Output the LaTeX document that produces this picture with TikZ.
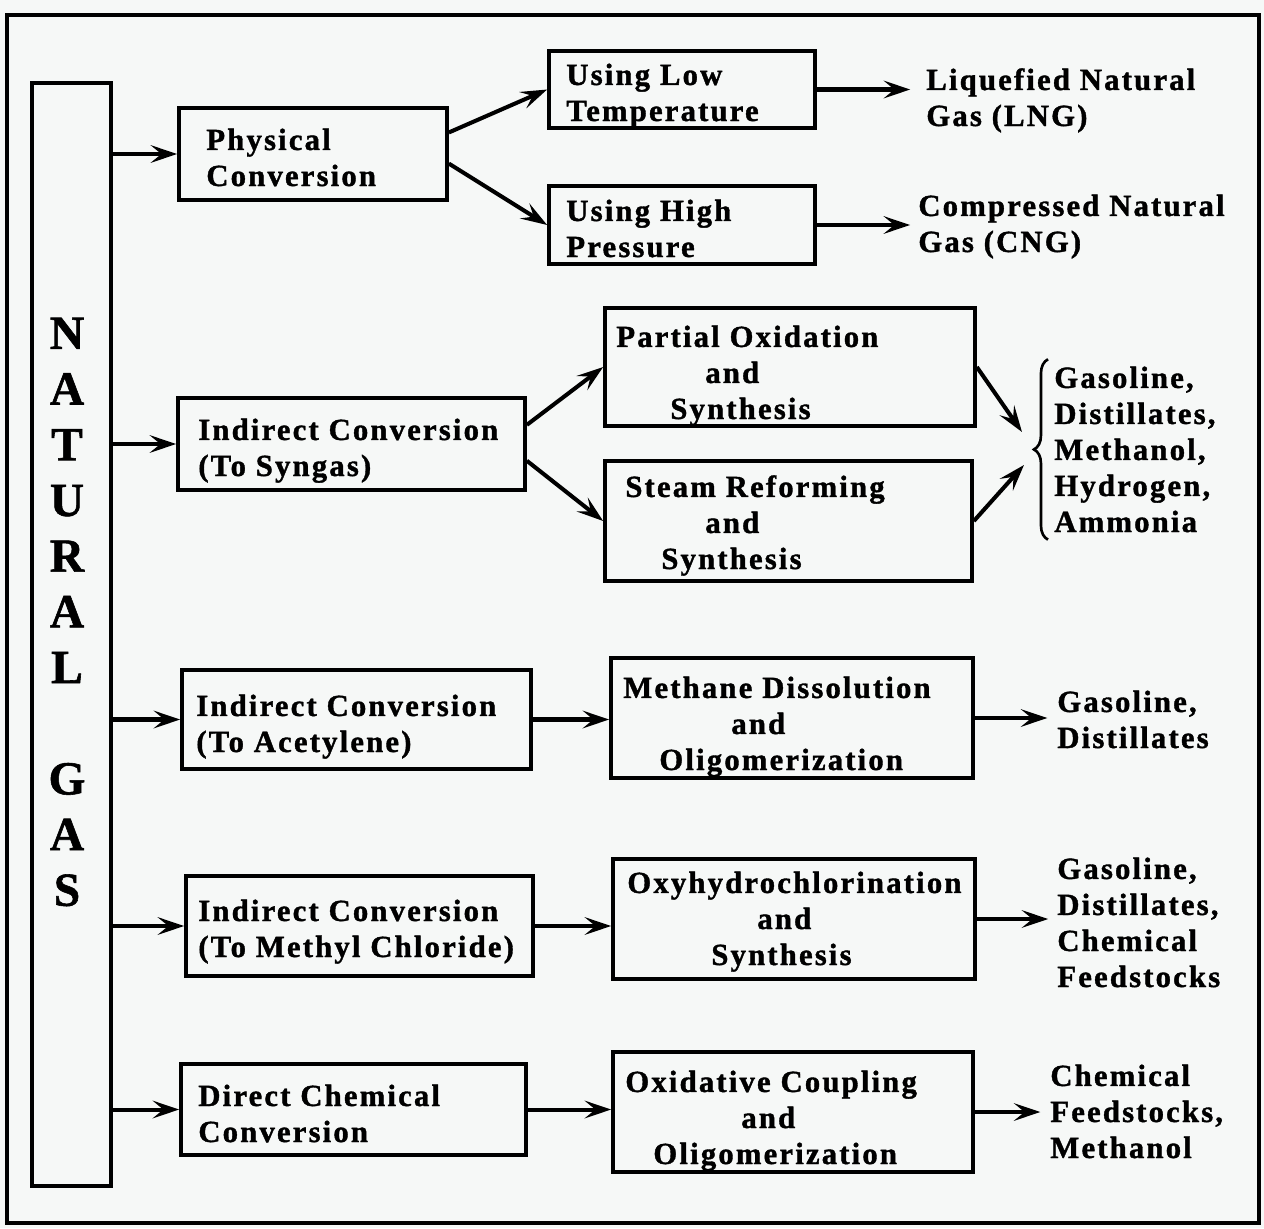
\documentclass[tikz,border=0pt]{standalone}
\usepackage{fontspec}
\setmainfont{Liberation Serif}[LetterSpace=7, BoldFeatures={FakeBold=1.2}]
\usepackage{xcolor}
\usetikzlibrary{arrows.meta,fit,calc,decorations.pathreplacing}
\definecolor{paper}{RGB}{246,248,247}
\newlength{\pxu}
\setlength{\pxu}{0.02cm}

\begin{document}
\begin{tikzpicture}[x=0.02cm, y=-0.02cm,
        box/.style={draw, black, line width=2.1pt, inner sep=0pt},
        txt/.style={inner sep=0pt, anchor=base west, align=left, font=\bfseries\fontsize{17.5}{20.5}\selectfont},
        arr/.style={black, line width=2.3pt, -{Stealth[length=15pt, width=10pt, inset=6pt]}}]
        \fill [paper] (0,0) rectangle (1264,1228);
        \useasboundingbox (0,0) rectangle (1264,1228);
        \node [box, line width=1.9pt, fit={(7,15) (1259,1223)}] (frame) {};

        \node [box, fit={(32,83) (111,1186)}] (bar) {};
        \node [inner sep=0pt, align=center, font=\bfseries\fontsize{27}{31.7}\selectfont] (name) at (67,612) {N\\A\\T\\U\\R\\A\\L\\[31.7pt]G\\A\\S};

        \node [box, fit={(179,108) (447,200)}] (phys) {};
        \node [txt] (phys-t) at (206,186) {Physical\\Conversion};
        \node [box, fit={(549,51) (815,128)}] (low) {};
        \node [txt] (low-t) at (566,121) {Using Low\\Temperature};
        \node [box, fit={(549,186) (815,264)}] (high) {};
        \node [txt] (high-t) at (566,257) {Using High\\Pressure};
        \node [txt] (lng) at (926,126) {Liquefied Natural\\Gas (LNG)};
        \node [txt] (cng) at (918,252) {Compressed Natural\\Gas (CNG)};

        \node [box, fit={(178,398) (525,490)}] (syn) {};
        \node [txt] (syn-t) at (198,476) {Indirect Conversion\\(To Syngas)};
        \node [box, fit={(605,308) (975,426)}] (pox) {};
        \node [txt] (pox-t) at (616,419) {Partial Oxidation\\\hspace*{89\pxu}and\\\hspace*{54\pxu}Synthesis};
        \node [box, fit={(605,461) (972,581)}] (stm) {};
        \node [txt] (stm-t) at (625,569) {Steam Reforming\\\hspace*{80\pxu}and\\\hspace*{36\pxu}Synthesis};
        \node [txt] (fuels) at (1054,532) {Gasoline,\\Distillates,\\Methanol,\\Hydrogen,\\Ammonia};
        \coordinate (fuels-in1) at (1022,432);
        \coordinate (fuels-in2) at (1024,465);
        \draw [black, line width=1.5pt, decorate, decoration={brace, amplitude=8pt}] ($(fuels.south west)+(-6,7)$) to ($(fuels.north west)+(-6,-7)$);

        \node [box, fit={(182,670) (531,769)}] (acet) {};
        \node [txt] (acet-t) at (196,752) {Indirect Conversion\\(To Acetylene)};
        \node [box, fit={(611,658) (973,778)}] (mdo) {};
        \node [txt] (mdo-t) at (623,770) {Methane Dissolution\\\hspace*{108\pxu}and\\\hspace*{36\pxu}Oligomerization};
        \node [txt] (gd) at (1057,748) {Gasoline,\\Distillates};

        \node [box, fit={(186,876) (533,976)}] (mcl) {};
        \node [txt] (mcl-t) at (198,957) {Indirect Conversion\\(To Methyl Chloride)};
        \node [box, fit={(613,859) (975,979)}] (ohc) {};
        \node [txt] (ohc-t) at (627,965) {Oxyhydrochlorination\\\hspace*{130\pxu}and\\\hspace*{84\pxu}Synthesis};
        \node [txt] (gdcf) at (1057,987) {Gasoline,\\Distillates,\\Chemical\\Feedstocks};

        \node [box, fit={(181,1064) (526,1155)}] (dcc) {};
        \node [txt] (dcc-t) at (198,1142) {Direct Chemical\\Conversion};
        \node [box, fit={(613,1052) (973,1172)}] (ocp) {};
        \node [txt] (ocp-t) at (625,1164) {Oxidative Coupling\\\hspace*{116\pxu}and\\\hspace*{28\pxu}Oligomerization};
        \node [txt] (cfm) at (1050,1158) {Chemical\\Feedstocks,\\Methanol};

        \draw [arr] (bar.east |- phys.west) to (phys.west);
        \draw [arr] (bar.east |- syn.west) to (syn.west);
        \draw [arr] (bar.east |- acet.west) to (acet.west);
        \draw [arr] (bar.east |- mcl.west) to (mcl.west);
        \draw [arr] (bar.east |- dcc.west) to (dcc.west);

        \draw [arr] ($(phys.east)!0.45!(phys.north east)$) to (low.west);
        \draw [arr] ($(phys.east)!0.2!(phys.south east)$) to (high.west);
        \draw [arr, shorten >=9pt] (low.east) to (low.east -| lng.west);
        \draw [arr, shorten >=4.5pt] (high.east) to (high.east -| cng.west);

        \draw [arr] ($(syn.east)!0.4!(syn.north east)$) to (pox.west);
        \draw [arr] ($(syn.east)!0.35!(syn.south east)$) to (stm.west);
        \draw [arr] (pox.east) to (fuels-in1);
        \draw [arr] (stm.east) to (fuels-in2);

        \draw [arr] (acet.east) to (acet.east -| mdo.west);
        \draw [arr, shorten >=5.5pt] (mdo.east) to (mdo.east -| gd.west);
        \draw [arr] (mcl.east) to (mcl.east -| ohc.west);
        \draw [arr, shorten >=5pt] (ohc.east) to (ohc.east -| gdcf.west);
        \draw [arr] (dcc.east) to (dcc.east -| ocp.west);
        \draw [arr, shorten >=5.5pt] (ocp.east) to (ocp.east -| cfm.west);
    \end{tikzpicture}
\end{document}
